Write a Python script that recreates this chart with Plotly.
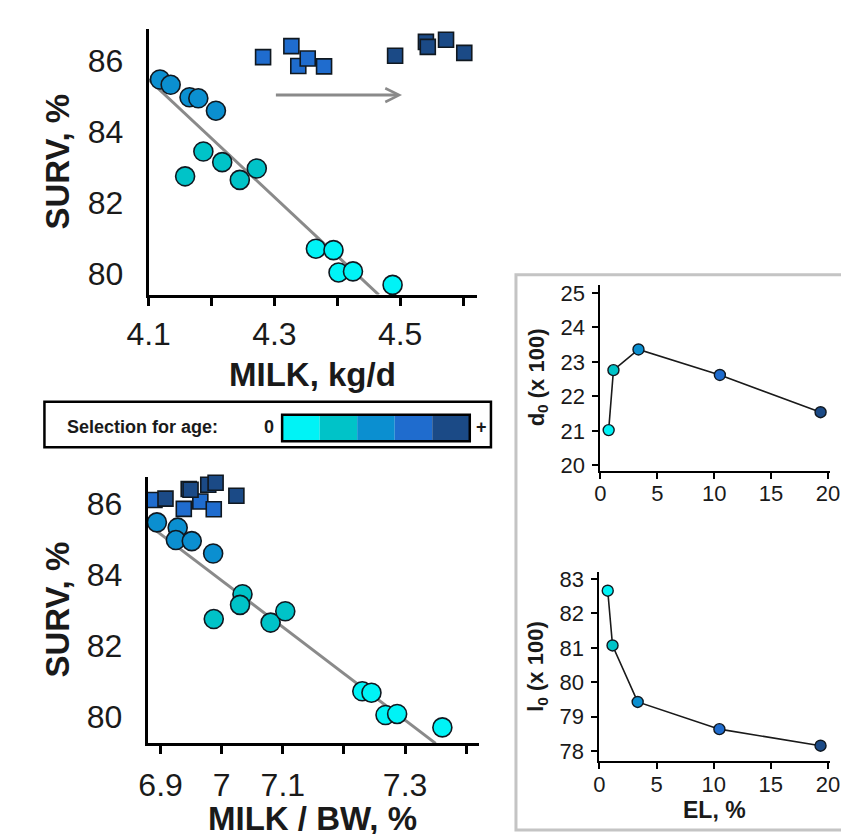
import plotly.graph_objects as go

W, H = 849, 834

# ---------------- data ----------------
LEVEL_COLORS = ["#00F3F6", "#00C3C8", "#0B8FD0", "#1F6CCE", "#1B4A86"]

# circles (populations without selection for age)
SURV_CIRCLES = [85.48, 85.33, 84.98, 84.95, 84.60, 83.45, 82.75, 83.15, 82.65, 82.97,
                80.71, 80.67, 80.04, 80.07, 79.69]
MILK_CIRCLES = [4.118, 4.135, 4.165, 4.179, 4.207, 4.187, 4.158, 4.217, 4.245, 4.272,
                4.366, 4.394, 4.402, 4.425, 4.488]
MILKBW_CIRCLES = [6.894, 6.928, 6.925, 6.951, 6.986, 7.034, 6.987, 7.030, 7.080, 7.104,
                  7.230, 7.245, 7.268, 7.287, 7.361]
CIRCLE_LEVEL = [3, 3, 3, 3, 3, 2, 2, 2, 2, 2, 1, 1, 1, 1, 1]

# squares (populations with selection for age)
SURV_SQUARES = [86.11, 86.42, 85.86, 86.07, 85.85, 86.15, 86.54, 86.40, 86.60, 86.23]
MILK_SQUARES = [4.282, 4.327, 4.338, 4.353, 4.379, 4.492, 4.541, 4.544, 4.573, 4.602]
MILKBW_SQUARES = [6.890, 6.946, 6.938, 6.965, 6.987, 6.908, 6.978, 6.949, 6.990, 7.024]
SQUARE_LEVEL = [4, 4, 4, 4, 4, 5, 5, 5, 5, 5]

# regression lines
TREND_MILK_X = [4.100, 4.466]
TREND_MILK_Y = [85.48, 79.41]
TREND_BW_X = [6.886, 7.350]
TREND_BW_Y = [85.33, 79.24]

# arrow (shift with selection)
ARROW_X = [4.300, 4.503]
ARROW_Y = 85.04

# right panels
EL = [0.73, 1.15, 3.35, 10.5, 19.35]
D0 = [21.02, 22.76, 23.36, 22.62, 21.54]
L0 = [82.66, 81.07, 79.43, 78.64, 78.16]
EL_LEVEL = [1, 2, 3, 4, 5]

MILK_TICKS = [4.1, 4.3, 4.5]
MILK_MINOR = [4.2, 4.4, 4.6]
BW_TICKS = [6.9, 7.0, 7.1, 7.3]
BW_TICKTEXT = ["6.9", "7", "7.1", "7.3"]
BW_MINOR = [7.2, 7.4]
SURV_TICKS = [80, 82, 84, 86]
EL_TICKS = [0, 5, 10, 15, 20]
D0_TICKS = [20, 21, 22, 23, 24, 25]
L0_TICKS = [78, 79, 80, 81, 82, 83]

FONT = "Liberation Sans, Arial, Helvetica, sans-serif"
OUTLINE = "#101820"


def px(x):
    return x / W


def py(y):
    return 1 - y / H


def colors(levels):
    return [LEVEL_COLORS[l - 1] for l in levels]


fig = go.Figure()

# ---- top-left: SURV vs MILK
fig.add_trace(go.Scatter(x=TREND_MILK_X, y=TREND_MILK_Y, mode="lines",
                         line=dict(color="#8a8a8a", width=3), xaxis="x", yaxis="y",
                         showlegend=False, hoverinfo="skip"))
fig.add_trace(go.Scatter(x=MILK_CIRCLES, y=SURV_CIRCLES, mode="markers", xaxis="x", yaxis="y",
                         marker=dict(symbol="circle", size=19, color=colors(CIRCLE_LEVEL),
                                     line=dict(color=OUTLINE, width=1.6)),
                         cliponaxis=False, showlegend=False))
fig.add_trace(go.Scatter(x=MILK_SQUARES, y=SURV_SQUARES, mode="markers", xaxis="x", yaxis="y",
                         marker=dict(symbol="square", size=15, color=colors(SQUARE_LEVEL),
                                     line=dict(color=OUTLINE, width=1.6)),
                         cliponaxis=False, showlegend=False))

# ---- bottom-left: SURV vs MILK/BW
fig.add_trace(go.Scatter(x=TREND_BW_X, y=TREND_BW_Y, mode="lines",
                         line=dict(color="#8a8a8a", width=3), xaxis="x2", yaxis="y2",
                         showlegend=False, hoverinfo="skip"))
fig.add_trace(go.Scatter(x=MILKBW_CIRCLES, y=SURV_CIRCLES, mode="markers", xaxis="x2", yaxis="y2",
                         marker=dict(symbol="circle", size=19, color=colors(CIRCLE_LEVEL),
                                     line=dict(color=OUTLINE, width=1.6)),
                         cliponaxis=False, showlegend=False))
fig.add_trace(go.Scatter(x=MILKBW_SQUARES, y=SURV_SQUARES, mode="markers", xaxis="x2", yaxis="y2",
                         marker=dict(symbol="square", size=15, color=colors(SQUARE_LEVEL),
                                     line=dict(color=OUTLINE, width=1.6)),
                         cliponaxis=False, showlegend=False))

# ---- right panels
fig.add_trace(go.Scatter(x=EL, y=D0, mode="lines+markers", xaxis="x3", yaxis="y3",
                         line=dict(color="#1a1a1a", width=1.6),
                         marker=dict(size=11, color=colors(EL_LEVEL),
                                     line=dict(color=OUTLINE, width=1.4)),
                         cliponaxis=False, showlegend=False))
fig.add_trace(go.Scatter(x=EL, y=L0, mode="lines+markers", xaxis="x4", yaxis="y4",
                         line=dict(color="#1a1a1a", width=1.6),
                         marker=dict(size=11, color=colors(EL_LEVEL),
                                     line=dict(color=OUTLINE, width=1.4)),
                         cliponaxis=False, showlegend=False))

big_axis = dict(showline=True, linecolor="black", linewidth=3, showgrid=False, zeroline=False,
                tickfont=dict(family=FONT, size=32, color="#1a1a1a"))
big_x = dict(ticks="outside", ticklen=8, tickwidth=3, tickcolor="black")
small_axis = dict(showline=True, linecolor="black", linewidth=2, showgrid=False, zeroline=False,
                  ticks="outside", ticklen=6, tickwidth=2, tickcolor="black",
                  tickfont=dict(family=FONT, size=22, color="#1a1a1a"))

fig.update_layout(
    width=W, height=H, margin=dict(l=0, r=0, t=0, b=0),
    paper_bgcolor="white", plot_bgcolor="white", showlegend=False,
    xaxis=dict(**big_axis, **big_x, domain=[px(123.3), px(465)], range=[4.1, 4.623],
               tickvals=MILK_TICKS, ticktext=[f"{v:.1f}" for v in MILK_TICKS], anchor="y",
               ticklabelstandoff=1,
               minor=dict(tickmode="array", tickvals=MILK_MINOR, ticks="outside", ticklen=8,
                          tickwidth=3, tickcolor="black", showgrid=False)),
    yaxis=dict(**big_axis, domain=[py(285), py(15)], range=[79.417, 86.91],
               tickvals=SURV_TICKS, ticks="", anchor="x", ticklabelstandoff=16),
    xaxis2=dict(**big_axis, **big_x, domain=[px(122.3), px(467)], range=[6.8789, 7.4216],
                tickvals=BW_TICKS, ticktext=BW_TICKTEXT, anchor="y2", ticklabelstandoff=3,
                minor=dict(tickmode="array", tickvals=BW_MINOR, ticks="outside", ticklen=8,
                           tickwidth=3, tickcolor="black", showgrid=False)),
    yaxis2=dict(**big_axis, domain=[py(741), py(470)], range=[79.237, 86.77],
                tickvals=SURV_TICKS, ticks="", anchor="x2", ticklabelstandoff=16),
    xaxis3=dict(**small_axis, domain=[px(592.7), px(831)], range=[0, 20.15],
                tickvals=EL_TICKS, anchor="y3", ticklabelstandoff=-4),
    yaxis3=dict(**small_axis, domain=[py(464), py(275)], range=[19.84, 25.24],
                tickvals=D0_TICKS, anchor="x3", ticklabelstandoff=3),
    xaxis4=dict(**small_axis, domain=[px(591.7), px(831)], range=[0, 20.15],
                tickvals=EL_TICKS, anchor="y4", ticklabelstandoff=-4),
    yaxis4=dict(**small_axis, domain=[py(759), py(567.3)], range=[77.71, 83.19],
                tickvals=L0_TICKS, anchor="x4", ticklabelstandoff=3),
)

title_font = dict(family=FONT, size=33, color="#1a1a1a")
small_title_font = dict(family=FONT, size=22, color="#1a1a1a")
ann = [
    dict(text="<b>SURV, %</b>", x=px(29), y=py(150), textangle=-90, font=title_font),
    dict(text="<b>SURV, %</b>", x=px(29), y=py(605), textangle=-90, font=title_font),
    dict(text="<b>MILK, kg/d</b>", x=px(294), y=py(366), font=title_font),
    dict(text="<b>MILK / BW, %</b>", x=px(294), y=py(817), font=title_font),
    dict(text="<b>d<sub>0</sub> (x 100)</b>", x=px(528), y=py(369), textangle=-90,
         font=small_title_font),
    dict(text="<b>l<sub>0</sub> (x 100)</b>", x=px(527), y=py(663), textangle=-90,
         font=small_title_font),
    dict(text="<b>EL, %</b>", x=px(711), y=py(809), font=dict(family=FONT, size=23, color="#1a1a1a")),
    dict(text="<b>Selection for age:</b>", x=px(36), y=py(420), xanchor="left",
         font=dict(family=FONT, size=18, color="#1a1a1a")),
    dict(text="<b>0</b>", x=px(248), y=py(420),
         font=dict(family=FONT, size=18, color="#1a1a1a")),
    dict(text="<b>+</b>", x=px(469), y=py(420),
         font=dict(family=FONT, size=18, color="#1a1a1a")),
]
for a in ann:
    a.setdefault("xanchor", "center")
    a.update(xref="paper", yref="paper", yanchor="middle", showarrow=False)
    fig.add_annotation(**a)

# arrow
fig.add_annotation(x=ARROW_X[1], y=ARROW_Y, ax=ARROW_X[0], ay=ARROW_Y,
                   xref="x", yref="y", axref="x", ayref="y", text="",
                   showarrow=True, arrowhead=5, arrowsize=0.9, arrowwidth=3,
                   arrowcolor="#8a8a8a")

shapes = []
# right panel frame
shapes.append(dict(type="rect", xref="paper", yref="paper", x0=px(505), x1=px(847),
                   y0=py(829), y1=py(265), line=dict(color="#c4c4c4", width=3)))
# legend box
shapes.append(dict(type="rect", xref="paper", yref="paper", x0=px(15), x1=px(479),
                   y0=py(440), y1=py(394), line=dict(color="black", width=2.5)))
# colour scale cells
cb_x0, cb_x1, cb_y0, cb_y1 = 262, 457, 407, 434
cw = (cb_x1 - cb_x0) / len(LEVEL_COLORS)
for i, c in enumerate(LEVEL_COLORS):
    shapes.append(dict(type="rect", xref="paper", yref="paper",
                       x0=px(cb_x0 + i * cw), x1=px(cb_x0 + (i + 1) * cw),
                       y0=py(cb_y1), y1=py(cb_y0), fillcolor=c, line=dict(width=0)))
shapes.append(dict(type="rect", xref="paper", yref="paper", x0=px(cb_x0), x1=px(cb_x1),
                   y0=py(cb_y1), y1=py(cb_y0), line=dict(color="black", width=2.5)))
fig.update_layout(shapes=shapes)

fig.write_html("out.html")
